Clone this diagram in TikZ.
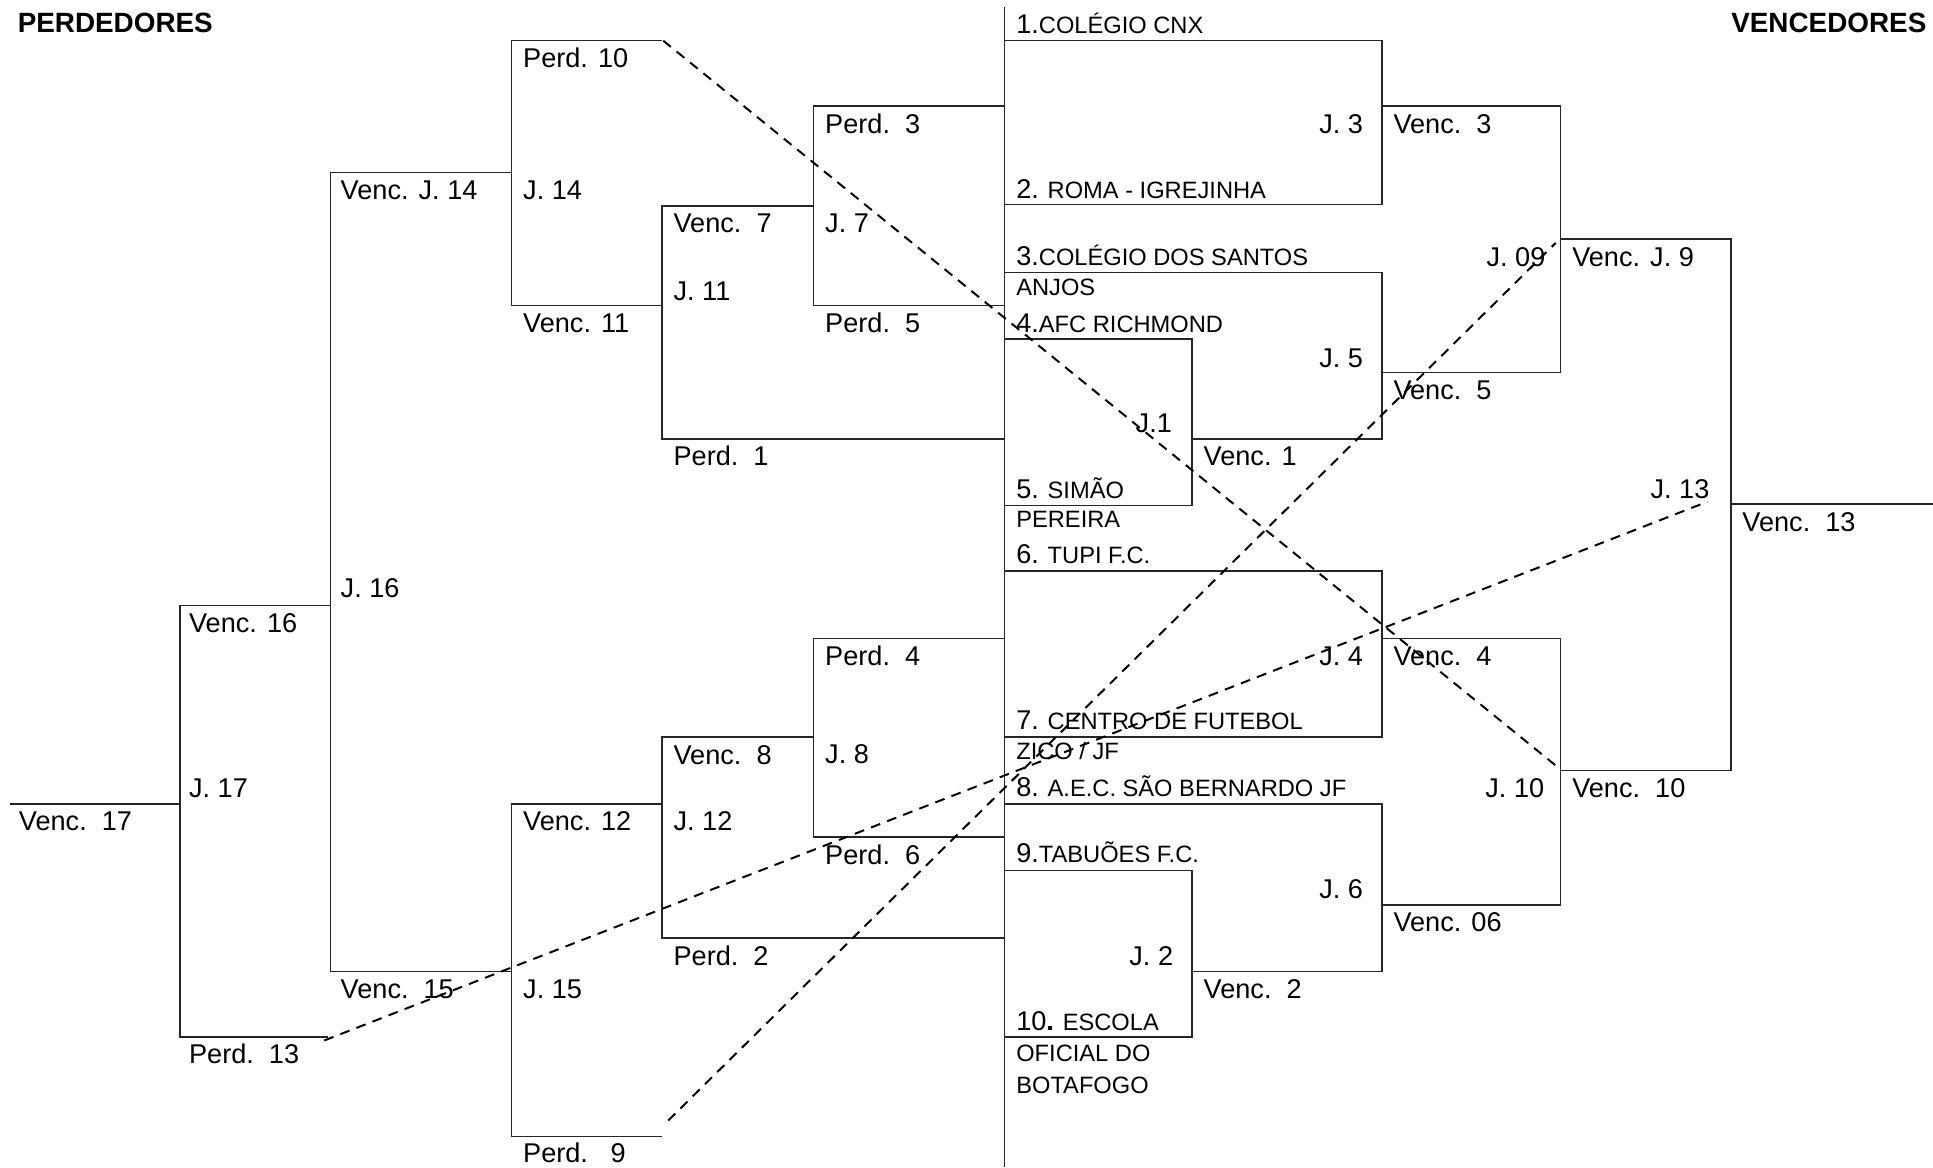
\documentclass[tikz,border=0pt]{standalone}
\usepackage{fontspec}
\setmainfont{Liberation Sans}
\newcommand\bigf{\fontsize{11}{13}\selectfont}
\newcommand\smallf{\fontsize{9.6}{11}\selectfont}
\newcommand\headf{\fontsize{11.3}{13}\selectfont\bfseries}
\begin{document}
\begin{tikzpicture}[x=0.5pt,y=-0.5pt,
  br/.style={line width=0.6pt, draw=black!85},
  dsh/.style={line width=0.8pt, draw=black, dash pattern=on 4pt off 3pt},
  L/.style={anchor=base west, inner sep=0pt, font=\bigf},
  R/.style={anchor=base east, inner sep=0pt, font=\bigf},
  T/.style={anchor=base west, inner sep=0pt, font=\smallf},
  H/.style={inner sep=0pt, font=\headf}]
\useasboundingbox (0,0) rectangle (1568,947);

% headers
\node[H, anchor=base west] (hp) at (14,26) {PERDEDORES};
\node[H, anchor=base east] (hv) at (1563,26) {VENCEDORES};

% centre line
\draw[br] (815,6) -- (815,947);

% winners bracket
\draw[br] (815,33) -- (1121,33) -- (1121,166) -- (815,166);
\draw[br] (1121,86) -- (1266,86) -- (1266,302) -- (1121,302);
\draw[br] (1266,194) -- (1404,194) -- (1404,625) -- (1266,625);
\draw[br] (1404,409) -- (1568,409);
\draw[br] (815,221) -- (1121,221) -- (1121,356) -- (967,356);
\draw[br] (815,275) -- (967,275) -- (967,410) -- (815,410);
\draw[br] (815,463) -- (1121,463) -- (1121,598) -- (815,598);
\draw[br] (1121,518) -- (1266,518) -- (1266,734) -- (1121,734);
\draw[br] (815,652) -- (1121,652) -- (1121,788) -- (967,788);
\draw[br] (815,706) -- (967,706) -- (967,841) -- (815,841);

% losers bracket
\draw[br] (815,86) -- (660,86) -- (660,248) -- (815,248);
\draw[br] (660,167) -- (537,167) -- (537,356) -- (815,356);
\draw[br] (537,33) -- (415,33) -- (415,248) -- (537,248);
\draw[br] (415,140) -- (268,140) -- (268,788) -- (415,788);
\draw[br] (268,491) -- (146,491) -- (146,841) -- (266,841);
\draw[br] (146,652) -- (8,652);
\draw[br] (815,518) -- (660,518) -- (660,679) -- (815,679);
\draw[br] (660,598) -- (537,598) -- (537,761) -- (815,761);
\draw[br] (537,652) -- (415,652) -- (415,922) -- (537,922);

% dashed cross links
\coordinate (a1) at (538,33);
\coordinate (a2) at (1262,621);
\coordinate (b1) at (542,909);
\coordinate (b2) at (1262,197);
\coordinate (c1) at (263,844);
\coordinate (c2) at (1385,407);
\draw[dsh] (a1) -- (a2);
\draw[dsh] (b1) -- (b2);
\draw[dsh] (c1) -- (c2);

% team names
\node[T] (s1) at (824,27) {{\bigf 1.}COLÉGIO CNX};
\node[T] (s2) at (824,161) {{\bigf 2.} ROMA - IGREJINHA};
\node[T] (s3) at (824,215) {{\bigf 3.}COLÉGIO DOS SANTOS};
\node[T] (s3b) at (824,240) {ANJOS};
\node[T] (s4) at (824,270) {{\bigf 4.}AFC RICHMOND};
\node[T] (s5) at (824,404) {{\bigf 5.} SIMÃO};
\node[T] (s5b) at (824,428) {PEREIRA};
\node[T] (s6) at (824,457) {{\bigf 6.} TUPI F.C.};
\node[T] (s7) at (824,592) {{\bigf 7.} CENTRO DE FUTEBOL};
\node[T] (s7b) at (824,616) {ZICO / JF};
\node[T] (s8) at (824,646) {{\bigf 8.} A.E.C. SÃO BERNARDO JF};
\node[T] (s9) at (824,700) {{\bigf 9.}TABUÕES F.C.};
\node[T] (s10) at (824,836) {{\bigf 10\textbf{.}} ESCOLA};
\node[T] (s10b) at (824,861) {OFICIAL DO};
\node[T] (s10c) at (824,887) {BOTAFOGO};

% winners labels
\node[R] (j3) at (1106,108) {J. 3};
\node[L] (v3) at (1130,108) {Venc.\ \ 3};
\node[R] (j9) at (1254,216) {J. 09};
\node[L] (v9) at (1275,216) {Venc. J. 9};
\node[R] (j5) at (1106,298) {J. 5};
\node[L] (v5) at (1130,324) {Venc.\ \ 5};
\node[R] (j1) at (951,351) {J.1};
\node[L] (v1) at (976,378) {Venc. 1};
\node[R] (j13) at (1387,404) {J. 13};
\node[L] (v13) at (1413,431) {Venc.\ \ 13};
\node[R] (j4) at (1106,540) {J. 4};
\node[L] (v4) at (1130,540) {Venc.\ \ 4};
\node[R] (j10) at (1253,647) {J. 10};
\node[L] (v10) at (1275,647) {Venc.\ \ 10};
\node[R] (j6) at (1106,729) {J. 6};
\node[L] (v6) at (1130,756) {Venc. 06};
\node[R] (j2) at (952,783) {J. 2};
\node[L] (v2) at (976,810) {Venc.\ \ 2};

% losers labels
\node[L] (p10) at (424,55) {Perd. 10};
\node[L] (vj14) at (276,162) {Venc. J. 14};
\node[L] (j14) at (424,162) {J. 14};
\node[L] (v11) at (424,270) {Venc. 11};
\node[L] (p3) at (669,108) {Perd.\ \ 3};
\node[L] (v7) at (546,189) {Venc.\ \ 7};
\node[L] (j7) at (669,189) {J. 7};
\node[L] (j11) at (546,244) {J. 11};
\node[L] (p5) at (669,270) {Perd.\ \ 5};
\node[L] (p1) at (546,378) {Perd.\ \ 1};
\node[L] (j16) at (276,485) {J. 16};
\node[L] (v16) at (153,513) {Venc. 16};
\node[L] (p4) at (669,540) {Perd.\ \ 4};
\node[L] (v8) at (546,620) {Venc.\ \ 8};
\node[L] (j8) at (669,619) {J. 8};
\node[L] (j17) at (153,647) {J. 17};
\node[L] (v17) at (15,674) {Venc.\ \ 17};
\node[L] (v12) at (424,674) {Venc. 12};
\node[L] (j12) at (546,674) {J. 12};
\node[L] (p6) at (669,701) {Perd.\ \ 6};
\node[L] (p2) at (546,783) {Perd.\ \ 2};
\node[L] (v15) at (276,810) {Venc.\ \ 15};
\node[L] (j15) at (424,810) {J. 15};
\node[L] (p13) at (153,863) {Perd.\ \ 13};
\node[L] (p9) at (424,943) {Perd.\ \ \ 9};
\end{tikzpicture}
\end{document}
